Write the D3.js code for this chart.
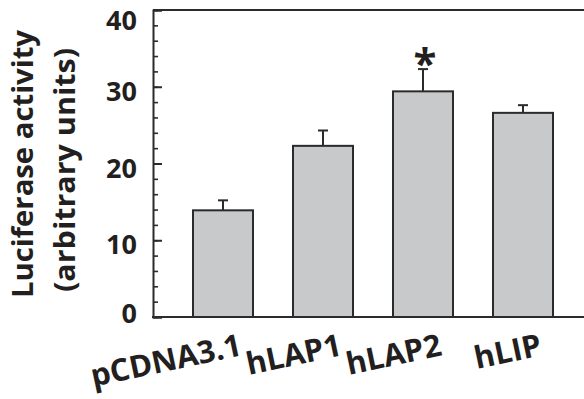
<!DOCTYPE html>
<html>
<head>
<meta charset="utf-8">
<script src="https://cdn.jsdelivr.net/npm/d3@7"></script>
<style>
  body { margin: 0; background: #fff; }
  svg { display: block; }
  text { font-family: 'Open Sans', sans-serif; font-weight: 700; fill: #231f20; }
</style>
</head>
<body>
<div id="chart"></div>
<script>
const categories = ['pCDNA3.1', 'hLAP1', 'hLAP2', 'hLIP'];
const values = [13.9, 22.3, 29.4, 26.6];
const errors = [1.3, 2.0, 2.9, 1.0];
const marks = ['', '', '*', ''];
const yTicks = [0, 10, 20, 30, 40];

const width = 584, height = 399;
const ink = '#2b2b2b';

const svg = d3.select('#chart')
  .append('svg')
  .attr('width', width)
  .attr('height', height);

const y = d3.scaleLinear()
  .domain([0, 40])
  .range([317, 10]);

const x = d3.scaleBand()
  .domain(categories)
  .range([173, 573])
  .paddingInner(0.4)
  .paddingOuter(0.2);

const axisX = 153;

// frame top line (right side is cut off)
svg.append('line')
  .attr('x1', axisX).attr('x2', width + 5)
  .attr('y1', y(40)).attr('y2', y(40))
  .attr('stroke', ink).attr('stroke-width', 2);

// minor ticks
svg.append('g')
  .attr('transform', `translate(${axisX},0)`)
  .call(d3.axisLeft(y).tickValues(d3.range(0, 41, 2)).tickSize(-5).tickFormat(''))
  .call(g => g.select('.domain').remove())
  .call(g => g.selectAll('line').attr('stroke', ink).attr('stroke-width', 1.6));

// major ticks + labels
svg.append('g')
  .attr('transform', `translate(${axisX},0)`)
  .call(d3.axisLeft(y).tickValues(yTicks).tickSize(-9).tickPadding(16))
  .call(g => g.select('.domain').attr('stroke', ink).attr('stroke-width', 2))
  .call(g => g.selectAll('line').attr('stroke', ink).attr('stroke-width', 2))
  .call(g => g.selectAll('text')
    .attr('font-size', 27)
    .attr('font-family', "'Open Sans', sans-serif")
    .attr('font-weight', 700)
    .attr('fill', '#231f20')
    .attr('dy', d => d === 40 ? '0.72em' : (d === 0 ? '0.2em' : '0.5em')));

// bars
svg.append('g')
  .selectAll('rect')
  .data(categories)
  .join('rect')
  .attr('x', d => x(d))
  .attr('y', (d, i) => y(values[i]))
  .attr('width', x.bandwidth())
  .attr('height', (d, i) => y(0) - y(values[i]))
  .attr('fill', '#c8c9cb')
  .attr('stroke', ink)
  .attr('stroke-width', 2);

// error bars (upper only)
const err = svg.append('g').attr('stroke', ink).attr('stroke-width', 2);
categories.forEach((c, i) => {
  const cx = x(c) + x.bandwidth() / 2;
  const top = y(values[i] + errors[i]);
  err.append('line')
    .attr('x1', cx).attr('x2', cx)
    .attr('y1', y(values[i])).attr('y2', top);
  err.append('line')
    .attr('x1', cx - 5).attr('x2', cx + 5)
    .attr('y1', top).attr('y2', top);
});

// significance marks
svg.append('g')
  .selectAll('text')
  .data(categories)
  .join('text')
  .attr('x', d => x(d) + x.bandwidth() / 2 + 2)
  .attr('y', (d, i) => y(values[i] + errors[i]) + 9)
  .attr('text-anchor', 'middle')
  .attr('font-size', 42)
  .text((d, i) => marks[i]);

// bottom line
svg.append('line')
  .attr('x1', axisX - 1).attr('x2', width + 5)
  .attr('y1', y(0)).attr('y2', y(0))
  .attr('stroke', ink).attr('stroke-width', 2);

// x labels, tilted
svg.append('g')
  .selectAll('text')
  .data(categories)
  .join('text')
  .attr('transform', d => `translate(${x(d) + x.bandwidth() / 2 + 20},355) rotate(-12)`)
  .attr('text-anchor', 'end')
  .attr('font-size', 31)
  .text(d => d);

// y title
svg.append('text')
  .attr('transform', 'translate(33,164) rotate(-90)')
  .attr('text-anchor', 'middle')
  .attr('font-size', 29)
  .attr('textLength', 268)
  .attr('lengthAdjust', 'spacingAndGlyphs')
  .text('Luciferase activity');
svg.append('text')
  .attr('transform', 'translate(75,170) rotate(-90)')
  .attr('text-anchor', 'middle')
  .attr('font-size', 29)
  .attr('textLength', 244)
  .attr('lengthAdjust', 'spacingAndGlyphs')
  .text('(arbitrary units)');
</script>
</body>
</html>
